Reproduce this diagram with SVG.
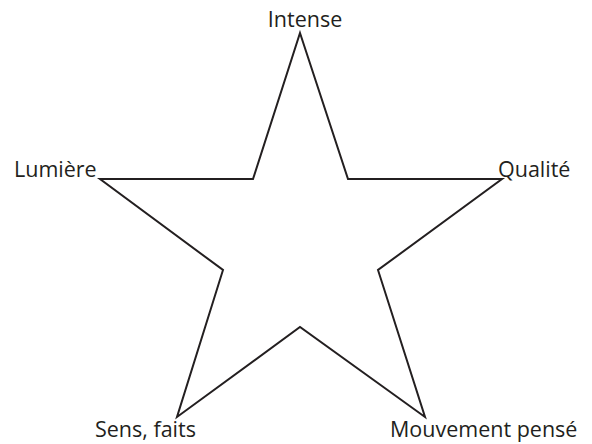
<svg xmlns="http://www.w3.org/2000/svg" width="592" height="444" viewBox="0 0 592 444">
<style>
.lbl{font-family:"Open Sans","Liberation Sans",sans-serif;font-size:21.5px;fill:#231f20}
.star{fill:none;stroke:#231f20;stroke-width:2;stroke-linejoin:miter}
</style>
<rect width="592" height="444" fill="#fff"/>
<g id="star">
<polygon class="star" points="300,33 348,179 502,179 378,270 425,417 300,327 177,417 223,270 100,179 253,179"/>
</g>
<g id="labels">
<text class="lbl" x="305" y="27" text-anchor="middle">Intense</text>
<text class="lbl" x="14" y="177">Lumière</text>
<text class="lbl" x="498" y="177">Qualité</text>
<text class="lbl" x="95" y="437">Sens, faits</text>
<text class="lbl" x="390" y="437">Mouvement pensé</text>
</g>
</svg>
